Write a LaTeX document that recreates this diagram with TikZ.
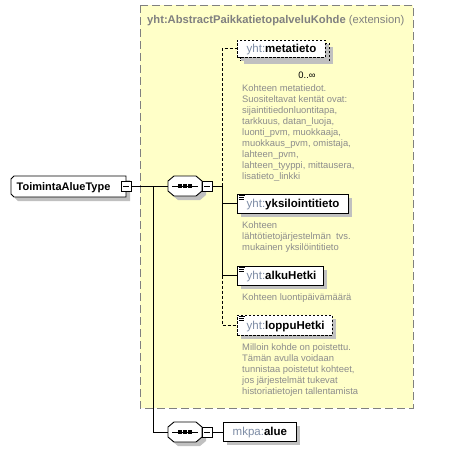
\documentclass[tikz,border=0pt]{standalone}
\usepackage{fontspec}
\setmainfont{Liberation Sans}
\usetikzlibrary{calc,shadows}
\definecolor{yel}{RGB}{255,255,200}
\definecolor{bord}{RGB}{128,128,128}
\definecolor{shd}{RGB}{192,192,192}
\definecolor{titc}{RGB}{128,128,128}
\definecolor{descc}{RGB}{140,140,140}
\definecolor{prec}{RGB}{125,140,165}
\newcommand{\pfx}[1]{\textcolor{prec}{#1}}
\begin{document}
\begin{tikzpicture}[x=1pt,y=-1pt,
  conn/.style={line width=0.9pt},
  dconn/.style={line width=0.9pt, dash pattern=on 3pt off 2pt},
  ebox/.style={draw, fill=white, line width=0.9pt, rectangle, inner sep=0pt, outer sep=0pt, anchor=north west,
     general shadow={fill=shd, shadow xshift=4pt, shadow yshift=-4pt}},
  obox/.style={ebox, dash pattern=on 2.5pt off 1.5pt},
  mbox/.style={draw, fill=white, line width=0.9pt, rectangle, minimum size=10pt, inner sep=0pt, outer sep=0pt},
  nmtext/.style={font=\fontsize{11.5}{13}\selectfont, inner sep=0pt, anchor=base west},
  desc/.style={font=\fontsize{9.4}{11}\selectfont, text=descc, inner sep=0pt, anchor=base west},
  hexs/.style={draw, fill=white, line width=0.9pt},
  ghost/.style={inner sep=0pt, outer sep=0pt},
]
\useasboundingbox (0,0) rectangle (456,451);

% extension area
\draw[fill=yel, draw=bord, line width=1pt, dash pattern=on 8pt off 4pt] (140,5) rectangle (413,408);
\node[anchor=base west, inner sep=0pt, font=\fontsize{11.2}{13}\selectfont, text=titc] (title) at (147,23)
  {\textbf{yht:AbstractPaikkatietopalveluKohde} (extension)};

% ToimintaAlueType
\fill[shd] (18,180) -- (130,180) -- (130,201) -- (18,201) -- (15,198) -- (15,183) -- cycle;
\draw[hexs] (14,176) -- (126,176) -- (126,197) -- (14,197) -- (11,194) -- (11,179) -- cycle;
\node[anchor=base west, inner sep=0pt, font=\fontsize{11}{13}\selectfont\bfseries] (tat) at (16.5,190) {ToimintaAlueType};
\node[mbox] (tam) at (126,186) {};
\draw[line width=0.8pt] ($(tam.west)+(2,0)$) -- ($(tam.east)+(-2,0)$);

% sequence 1
\fill[shd] (178,180) -- (200,180) -- (206,185) -- (206,195) -- (200,200) -- (178,200) -- (172,195) -- (172,185) -- cycle;
\draw[hexs] (174,176) -- (196,176) -- (202,181) -- (202,191) -- (196,196) -- (174,196) -- (168,191) -- (168,181) -- cycle;
\node[ghost, minimum width=34pt, minimum height=20pt] (s1) at (185,186) {};
\draw[line width=0.9pt] (172,186) -- (198,186);
\foreach \xx in {180,185,190} \fill ({\xx-1.6},184.4) rectangle ({\xx+1.6},187.6);
\node[mbox] (s1m) at (207,186) {};
\draw[line width=0.8pt] ($(s1m.west)+(2,0)$) -- ($(s1m.east)+(-2,0)$);

% sequence 2
\fill[shd] (178,426) -- (200,426) -- (206,431) -- (206,441) -- (200,446) -- (178,446) -- (172,441) -- (172,431) -- cycle;
\draw[hexs] (174,422) -- (196,422) -- (202,427) -- (202,437) -- (196,442) -- (174,442) -- (168,437) -- (168,427) -- cycle;
\node[ghost, minimum width=34pt, minimum height=20pt] (s2) at (185,432) {};
\draw[line width=0.9pt] (172,432) -- (198,432);
\foreach \xx in {180,185,190} \fill ({\xx-1.6},430.4) rectangle ({\xx+1.6},433.6);
\node[mbox] (s2m) at (207,432) {};
\draw[line width=0.8pt] ($(s2m.west)+(2,0)$) -- ($(s2m.east)+(-2,0)$);

% metatieto (multiple)
\fill[shd] (244,47) rectangle (333,64);
\node[obox, general shadow={fill=shd, shadow xshift=0pt, shadow yshift=0pt}, minimum width=89pt, minimum height=17pt] (mback) at (240,43) {};
\node[obox, general shadow={fill=white, shadow xshift=0pt, shadow yshift=0pt}, minimum width=88pt, minimum height=17pt] (meta) at (237,40) {};
\node[nmtext] (metaT) at ($(meta.west)+(9.5,4)$) {\pfx{yht:}\textbf{metatieto}};
\node[anchor=base, inner sep=0pt, font=\fontsize{9.4}{11}\selectfont] (occ) at (307,78) {0..∞};

% yksilointitieto
\node[ebox, minimum width=111pt, minimum height=19pt] (yks) at (237,194) {};
\node[nmtext] (yksT) at ($(yks.west)+(9.5,4)$) {\pfx{yht:}\textbf{yksilointitieto}};

% alkuHetki
\node[ebox, minimum width=86pt, minimum height=19pt] (alku) at (237,266) {};
\node[nmtext] (alkuT) at ($(alku.west)+(9.5,4)$) {\pfx{yht:}\textbf{alkuHetki}};

% loppuHetki
\node[obox, minimum width=95pt, minimum height=20pt] (lop) at (237,315) {};
\node[nmtext] (lopT) at ($(lop.west)+(9.5,4)$) {\pfx{yht:}\textbf{loppuHetki}};

% mkpa:alue
\node[ebox, minimum width=73pt, minimum height=19pt] (alue) at (223,422) {};
\node[nmtext] (alueT) at ($(alue.west)+(9.5,4)$) {\pfx{mkpa:}\textbf{alue}};

% simple-content icons
\foreach \b in {yks,alku,lop} {
  \draw[line width=0.6pt] ($(\b.north west)+(2,1.6)$) -- ++(6,0);
  \draw[line width=0.6pt] ($(\b.north west)+(2,3.3)$) -- ++(5,0);
  \draw[line width=0.6pt] ($(\b.north west)+(2,5.0)$) -- ++(5,0);
}

% connectors
\coordinate (j1) at (153,186);
\coordinate (j2) at (222,186);
\draw[conn] (tam.east) -- (s1.west);
\draw[conn] (j1) |- (s2.west);
\draw[conn] (s1m.east) -- (j2);
\draw[dconn] (j2) |- (meta.west);
\draw[conn] (j2) |- (yks.west);
\draw[conn] (j2) |- (alku.west);
\draw[dconn] (alku.west -| j2) |- (lop.west);
\draw[conn] (s2m.east) -- (s2m.east -| alue.west);

% descriptions
\foreach \t [count=\i from 0] in {{Kohteen metatiedot.},{Suositeltavat kentät ovat:},{sijaintitiedonluontitapa,},{tarkkuus, datan\_luoja,},{luonti\_pvm, muokkaaja,},{muokkaus\_pvm, omistaja,},{lahteen\_pvm,},{lahteen\_tyyppi, mittausera,},{lisatieto\_linkki}}
  \node[desc] (md\i) at (242,{91.5+11*\i}) {\t};
\foreach \t [count=\i from 0] in {{Kohteen},{lähtötietojärjestelmän\hspace{5pt}tvs.},{mukainen yksilöintitieto}}
  \node[desc] (yd\i) at (242,{228.5+11*\i}) {\t};
\node[desc] (ad0) at (242,300.5) {Kohteen luontipäivämäärä};
\foreach \t [count=\i from 0] in {{Milloin kohde on poistettu.},{Tämän avulla voidaan},{tunnistaa poistetut kohteet,},{jos järjestelmät tukevat},{historiatietojen tallentamista}}
  \node[desc] (ld\i) at (242,{350.5+11*\i}) {\t};
\end{tikzpicture}
\end{document}
